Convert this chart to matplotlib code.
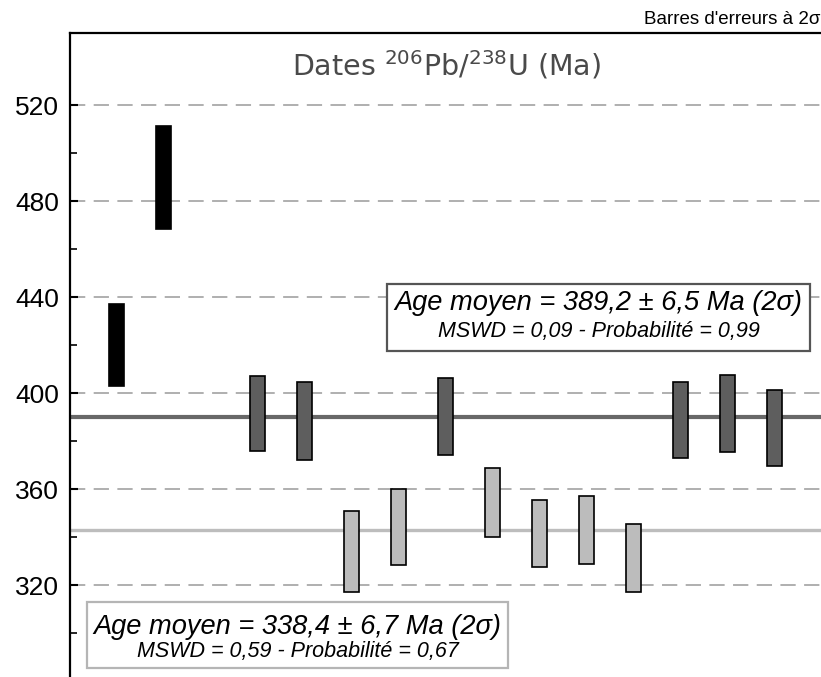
import numpy as np
import matplotlib
matplotlib.use("Agg")
import matplotlib.pyplot as plt
from matplotlib.patches import Rectangle

# analyses (position along x), 2-sigma intervals (Ma)
analysis = [1, 2, 4, 5, 6, 7, 8, 9, 10, 11, 12, 13, 14, 15]
age_low = [403.0, 468.3, 376.0, 372.2, 317.2, 328.2, 374.0,
           339.9, 327.5, 328.6, 317.2, 373.1, 375.6, 369.7]
age_high = [437.1, 511.4, 407.1, 404.6, 350.8, 359.9, 406.4,
            368.6, 355.4, 356.9, 345.3, 404.5, 407.5, 401.4]
group = ["herite", "herite", "g1", "g1", "g2", "g2", "g1",
         "g2", "g2", "g2", "g2", "g1", "g1", "g1"]

mean_g1 = 389.9
mean_g2 = 342.8

major_ticks = [320, 360, 400, 440, 480, 520]
minor_ticks = [300, 340, 380, 420, 460, 500]

colors = {"herite": "#000000", "g1": "#5e5e5e", "g2": "#bcbcbc"}

plt.rcParams['font.family'] = ['Liberation Sans', 'DejaVu Sans']

fig = plt.figure(figsize=(8.21, 6.77), dpi=100)
ax = fig.add_axes([70 / 821, 0, 1 - 70 / 821, (677 - 33) / 677])

ax.set_xlim(0, 16)
ax.set_ylim(281.7, 550)

# mean lines
ax.axhline(mean_g1, color="#686868", lw=3.0, zorder=2)
ax.axhline(mean_g2, color="#bdbdbd", lw=2.4, zorder=2)

# error bars as boxes
lo = np.array(age_low)
hi = np.array(age_high)
for xi, l, h, g in zip(analysis, lo, hi, group):
    ax.bar(xi, h - l, bottom=l, width=0.32, color=colors[g],
           edgecolor="black", linewidth=1.2, zorder=3)

# axes styling
ax.set_yticks(major_ticks)
ax.set_yticks(minor_ticks, minor=True)
ax.set_xticks([])
ax.tick_params(axis='y', which='major', direction='in', length=6, width=1.5,
               labelsize=19, pad=8)
ax.tick_params(axis='y', which='minor', direction='in', length=5, width=1.2)
ax.grid(axis='y', which='major', color="#9a9a9a", lw=1.1,
        linestyle=(0, (10, 5.5)), zorder=1)
for s in ["right", "bottom"]:
    ax.spines[s].set_visible(False)
for s in ["left", "top"]:
    ax.spines[s].set_linewidth(1.6)


def fx(px):
    return (px - 70) / 751


def fy(py):
    return 1 - (py - 33) / 644


# title inside the plot
ax.text(fx(447), fy(65), r"Dates $^{206}$Pb/$^{238}$U (Ma)",
        transform=ax.transAxes, ha='center', va='center', fontsize=20.5,
        color="#4a4a4a", family=['DejaVu Sans'])

fig.text(0.999, 1 - 20 / 677, "Barres d'erreurs à 2σ", ha='right', va='center',
         fontsize=13.5)


# summary boxes (axes fraction coordinates)
def summary_box(x0, y0, x1, y1, edge, line1, line2, y_l1, y_l2):
    ax.add_patch(Rectangle((x0, y0), x1 - x0, y1 - y0, transform=ax.transAxes,
                           facecolor='white', edgecolor=edge, lw=1.6, zorder=5))
    xc = 0.5 * (x0 + x1)
    ax.text(xc, y_l1, line1, transform=ax.transAxes, ha='center', va='center',
            fontsize=19.6, style='italic', zorder=6)
    ax.text(xc, y_l2, line2, transform=ax.transAxes, ha='center', va='center',
            fontsize=15.5, style='italic', zorder=6)


summary_box(fx(387), fy(351), fx(810), fy(284), "#555555",
            "Age moyen = 389,2 ± 6,5 Ma (2σ)",
            "MSWD = 0,09 - Probabilité = 0,99", fy(303), fy(332))
summary_box(fx(87), fy(668), fx(508), fy(602), "#b5b5b5",
            "Age moyen = 338,4 ± 6,7 Ma (2σ)",
            "MSWD = 0,59 - Probabilité = 0,67", fy(627), fy(652))

fig.savefig("out.png", dpi=100)
